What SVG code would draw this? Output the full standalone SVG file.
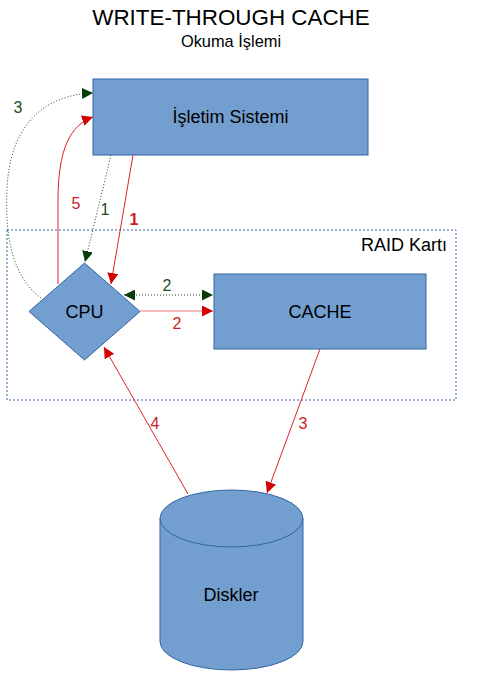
<svg xmlns="http://www.w3.org/2000/svg" width="488" height="685" viewBox="0 0 488 685">
  <style>
    text { font-family: "Liberation Sans", Arial, sans-serif; fill: #000; }
    .shape { fill: #729fcf; stroke: #3465a4; stroke-width: 1; }
    .lbl { font-size: 18px; text-anchor: middle; }
    .red { stroke: #e0202a; stroke-width: 1; fill: none; }
    .grn { stroke: #1d4d1d; stroke-width: 1; fill: none; stroke-dasharray: 1 2; }
    .nred { fill: #c9211e; font-size: 16px; text-anchor: middle; }
    .ngrn { fill: #1d4d1d; font-size: 16px; text-anchor: middle; }
  </style>
  <defs>
    <marker id="ah-red" viewBox="0 0 10 10" refX="10" refY="5" markerWidth="11" markerHeight="11" markerUnits="userSpaceOnUse" orient="auto-start-reverse">
      <path d="M0,0 L10,5 L0,10 z" fill="#d40000"/>
    </marker>
    <marker id="ah-grn" viewBox="0 0 10 10" refX="10" refY="5" markerWidth="11" markerHeight="11" markerUnits="userSpaceOnUse" orient="auto-start-reverse">
      <path d="M0,0 L10,5 L0,10 z" fill="#0b3d0b"/>
    </marker>
  </defs>

  <!-- title -->
  <g id="title">
    <text x="231" y="25" font-size="22.4" text-anchor="middle">WRITE-THROUGH CACHE</text>
    <text x="231" y="47" font-size="16.4" text-anchor="middle">Okuma İşlemi</text>
  </g>

  <!-- RAID card frame -->
  <g id="raid">
    <rect x="7" y="230" width="449" height="170" fill="none" stroke="#3465a4" stroke-width="1" stroke-dasharray="2 2"/>
    <text x="447" y="251" font-size="18" text-anchor="end">RAID Kartı</text>
  </g>

  <g id="os">
    <rect class="shape" x="93" y="79" width="275" height="76"/>
    <text class="lbl" x="230.5" y="123">İşletim Sistemi</text>
  </g>

  <g id="cache">
    <rect class="shape" x="214" y="274" width="212" height="75"/>
    <text class="lbl" x="320" y="318">CACHE</text>
  </g>

  <g id="cpu">
    <path class="shape" d="M84.5,263 L140,311.5 L84.5,360 L29,311.5 z"/>
    <text class="lbl" x="84.5" y="318">CPU</text>
  </g>

  <g id="disks">
    <path class="shape" d="M160,518.5 L160,641.5 A71.5,28.5 0 0 0 303,641.5 L303,518.5 A71.5,28.5 0 0 0 160,518.5 z"/>
    <path d="M160,518.5 A71.5,28.5 0 0 0 303,518.5" fill="none" stroke="#3465a4" stroke-width="1"/>
    <text class="lbl" x="231" y="601">Diskler</text>
  </g>

  <g id="connectors">
    <!-- 1: OS -> CPU -->
    <path class="grn" d="M111,155 L85,262" marker-end="url(#ah-grn)"/>
    <path class="red" d="M133,155 L111,284" marker-end="url(#ah-red)"/>
    <!-- 2: CPU <-> CACHE -->
    <path class="grn" d="M124,295 L213,295" marker-start="url(#ah-grn)" marker-end="url(#ah-grn)"/>
    <path class="red" stroke-opacity="0.6" d="M140,311 L213,311" marker-end="url(#ah-red)"/>
    <!-- 3: CACHE -> disks, CPU -> OS -->
    <path class="red" d="M320,349 L267,493" marker-end="url(#ah-red)"/>
    <path class="grn" d="M41,298 C10,275 5,230 7,190 C9,130 40,95 93,93" marker-end="url(#ah-grn)"/>
    <!-- 4: disks -> CPU -->
    <path class="red" d="M188,494 L104,347" marker-end="url(#ah-red)"/>
    <!-- 5: CPU -> OS -->
    <path class="red" d="M58,284 L58,200 C58,150 70,125 93,117" marker-end="url(#ah-red)"/>

    <text class="ngrn" x="105" y="215">1</text>
    <text class="nred" x="134" y="225" font-weight="bold">1</text>
    <text class="ngrn" x="167" y="291">2</text>
    <text class="nred" x="177" y="329">2</text>
    <text class="ngrn" x="18" y="113">3</text>
    <text class="nred" x="303" y="429">3</text>
    <text class="nred" x="155" y="429">4</text>
    <text class="nred" x="76" y="209">5</text>
  </g>
</svg>
